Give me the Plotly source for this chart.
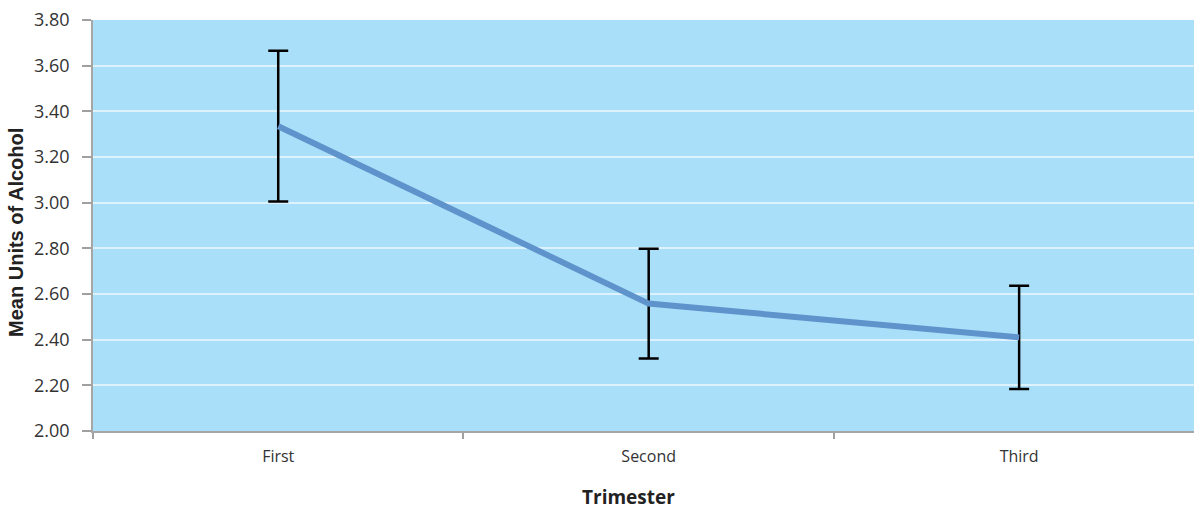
import plotly.graph_objects as go

categories = ["First", "Second", "Third"]
means = [3.335, 2.558, 2.41]
errors = [0.33, 0.24, 0.226]
y_ticks = [2.00, 2.20, 2.40, 2.60, 2.80, 3.00, 3.20, 3.40, 3.60, 3.80]
x_title = "Trimester"
y_title = "Mean Units of Alcohol"

font_family = "Open Sans, Noto Sans, DejaVu Sans, sans-serif"

fig = go.Figure()
fig.add_trace(go.Scatter(
    x=categories, y=means, mode="lines",
    line=dict(color="#5E93CB", width=6),
    error_y=dict(type="data", array=errors, visible=True,
                 color="black", thickness=2.5, width=10),
    showlegend=False, hoverinfo="skip",
))

fig.update_layout(
    width=1194, height=509,
    margin=dict(l=93, r=0, t=20, b=78, autoexpand=False),
    paper_bgcolor="white",
    plot_bgcolor="#AADFF9",
    font=dict(family=font_family, color="#333333"),
    xaxis=dict(
        type="category",
        range=[-0.5, 2.472],
        automargin=False,
        tickson="boundaries",
        ticks="outside", ticklen=6, tickwidth=2, tickcolor="#A0A0A0",
        showline=True, linecolor="#A6A6A6", linewidth=1.5,
        showgrid=False,
        tickfont=dict(size=16, color="#333333"),
        ticklabelstandoff=10,
    ),
    yaxis=dict(
        range=[2.0, 3.8],
        automargin=False,
        tickvals=y_ticks,
        ticktext=[f"{v:.2f}" for v in y_ticks],
        ticks="outside", ticklen=9, tickwidth=2, tickcolor="#A0A0A0",
        showline=True, linecolor="#A6A6A6", linewidth=1.5,
        showgrid=True, gridcolor="rgba(255,255,255,0.6)", gridwidth=1.5,
        zeroline=False,
        tickfont=dict(size=18, color="#333333"),
        ticklabelstandoff=9,
    ),
    annotations=[
        dict(text=f"<b>{x_title}</b>", xref="paper", yref="paper",
             x=0.4868, y=-0.1606, xanchor="center", yanchor="middle",
             showarrow=False, font=dict(size=19, color="#222222", family=font_family)),
        dict(text=f"<b>{y_title}</b>", xref="paper", yref="paper",
             x=-0.0699, y=0.482, xanchor="center", yanchor="middle", textangle=-90,
             showarrow=False, font=dict(size=20, color="#222222",
                                        family="Liberation Sans, Arial, sans-serif")),
    ],
)

fig.write_html(
    "out.html",
    config={"displayModeBar": False},
    post_script="document.body.style.margin='0';document.body.style.overflow='hidden';",
)
